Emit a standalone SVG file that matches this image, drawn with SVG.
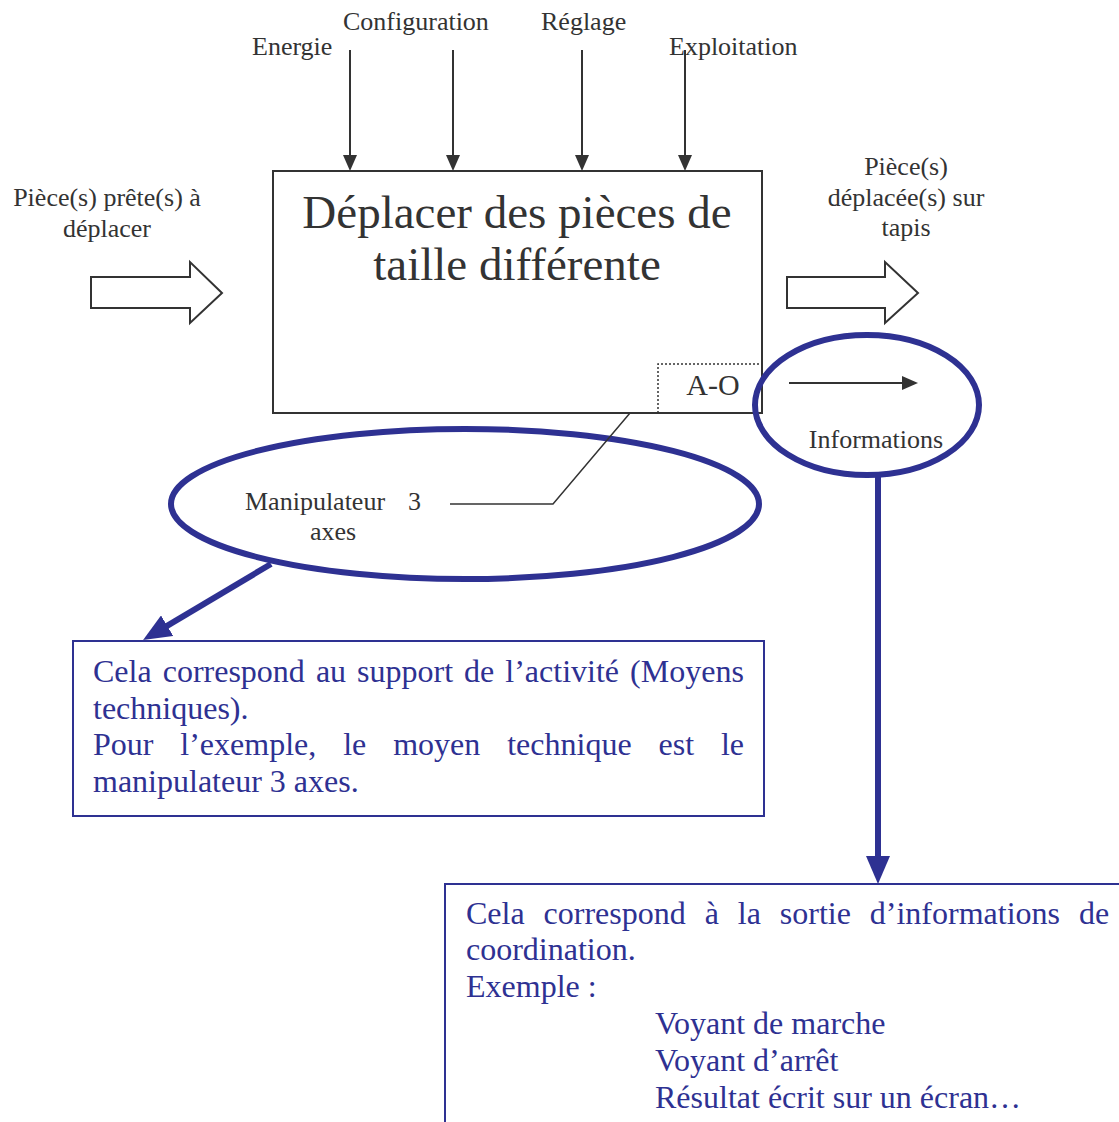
<svg xmlns="http://www.w3.org/2000/svg" width="1119" height="1122" viewBox="0 0 1119 1122">
<style>
.lbl{font-family:"Liberation Serif","Times New Roman",serif;font-size:26px;fill:#333333}
.title{font-family:"Liberation Serif","Times New Roman",serif;font-size:47px;fill:#333333}
.ao{font-family:"Liberation Serif","Times New Roman",serif;font-size:30px;fill:#333333}
.bt{font-family:"Liberation Serif","Times New Roman",serif;font-size:32px;fill:#2E3192}
.gline{stroke:#333333;stroke-width:2;fill:none}
.bline{stroke:#2E3192;stroke-width:6;fill:none}
.oval{stroke:#2E3192;stroke-width:6;fill:none}
.bbox{stroke:#2E3192;stroke-width:2;fill:#ffffff}
.block{stroke:#333333;stroke-width:2;fill:#ffffff}
</style>
<defs>
<marker id="ga" markerUnits="userSpaceOnUse" markerWidth="16" markerHeight="14" refX="4" refY="7" orient="auto">
<path d="M0,0 L16,7 L0,14 z" fill="#333333"/>
</marker>
<marker id="ba" markerUnits="userSpaceOnUse" markerWidth="28" markerHeight="24" refX="6" refY="12" orient="auto">
<path d="M0,0 L28,12 L0,24 z" fill="#2E3192"/>
</marker>
</defs>
<rect width="1119" height="1122" fill="#ffffff"/>

<g id="main">
<rect x="273" y="171" width="489" height="242" fill="#ffffff" stroke="#333333" stroke-width="2"/>
<text class="title" x="517" y="228" text-anchor="middle">Déplacer des pièces de</text>
<text class="title" x="517" y="280" text-anchor="middle">taille différente</text>
<path d="M658,413 L658,364 L762,364" stroke="#333333" stroke-width="1.5" stroke-dasharray="2,2" fill="none"/>
<text class="ao" x="713" y="395" text-anchor="middle">A-O</text>
</g>

<g id="labels">
<text class="lbl" x="252" y="55">Energie</text>
<text class="lbl" x="343" y="30">Configuration</text>
<text class="lbl" x="541" y="30">Réglage</text>
<text class="lbl" x="669" y="55">Exploitation</text>
<text class="lbl" x="107" y="206" text-anchor="middle">Pièce(s) prête(s) à</text>
<text class="lbl" x="107" y="237" text-anchor="middle">déplacer</text>
<text class="lbl" x="906" y="175" text-anchor="middle">Pièce(s)</text>
<text class="lbl" x="906" y="206" text-anchor="middle">déplacée(s) sur</text>
<text class="lbl" x="906" y="236" text-anchor="middle">tapis</text>
<text class="lbl" x="876" y="448" text-anchor="middle">Informations</text>
<text class="lbl" x="245" y="510">Manipulateur</text>
<text class="lbl" x="408" y="510">3</text>
<text class="lbl" x="333" y="540" text-anchor="middle">axes</text>
</g>

<g id="block-arrows">
<polygon class="block" points="91,277 190,277 190,262 222,293 190,323 190,308 91,308"/>
<polygon class="block" points="787,277 885,277 885,262 918,293 885,323 885,308 787,308"/>
</g>

<g id="ovals">
<ellipse class="oval" cx="465" cy="504" rx="294" ry="75"/>
<ellipse class="oval" cx="867" cy="405" rx="112" ry="70"/>
</g>

<g id="connectors">
<line class="gline" x1="350" y1="50" x2="350" y2="159" marker-end="url(#ga)"/>
<line class="gline" x1="453" y1="50" x2="453" y2="159" marker-end="url(#ga)"/>
<line class="gline" x1="582" y1="50" x2="582" y2="159" marker-end="url(#ga)"/>
<line class="gline" x1="685" y1="50" x2="685" y2="159" marker-end="url(#ga)"/>
<line class="gline" x1="789" y1="383" x2="906" y2="383" marker-end="url(#ga)"/>
<polyline points="630,413 553,504 450,504" stroke="#333333" stroke-width="1.5" fill="none"/>
<line class="bline" x1="271" y1="564" x2="162" y2="628.8" marker-end="url(#ba)"/>
<line class="bline" x1="878" y1="475" x2="878" y2="862" marker-end="url(#ba)"/>
</g>

<g id="note-support">
<rect class="bbox" x="73" y="641" width="691" height="175"/>
<text class="bt" y="682"><tspan x="93">Cela</tspan><tspan x="162.7">correspond</tspan><tspan x="315.9">au</tspan><tspan x="357.1">support</tspan><tspan x="464.1">de</tspan><tspan x="505.3">l’activité</tspan><tspan x="630.1">(Moyens</tspan></text>
<text class="bt" x="93" y="719">techniques).</text>
<text class="bt" y="755"><tspan x="93">Pour</tspan><tspan x="180.3">l’exemple,</tspan><tspan x="343.2">le</tspan><tspan x="393.2">moyen</tspan><tspan x="507.2">technique</tspan><tspan x="658.5">est</tspan><tspan x="720.9">le</tspan></text>
<text class="bt" x="93" y="792">manipulateur 3 axes.</text>
</g>

<g id="note-info">
<rect class="bbox" x="445" y="884" width="700" height="300"/>
<text class="bt" y="924"><tspan x="466">Cela</tspan><tspan x="543.6">correspond</tspan><tspan x="704.7">à</tspan><tspan x="737.8">la</tspan><tspan x="779.8">sortie</tspan><tspan x="869.8">d’informations</tspan><tspan x="1078.9">de</tspan></text>
<text class="bt" x="466" y="960">coordination.</text>
<text class="bt" x="466" y="997">Exemple :</text>
<text class="bt" x="655" y="1034">Voyant de marche</text>
<text class="bt" x="655" y="1071">Voyant d’arrêt</text>
<text class="bt" x="655" y="1108">Résultat écrit sur un écran…</text>
</g>
</svg>
